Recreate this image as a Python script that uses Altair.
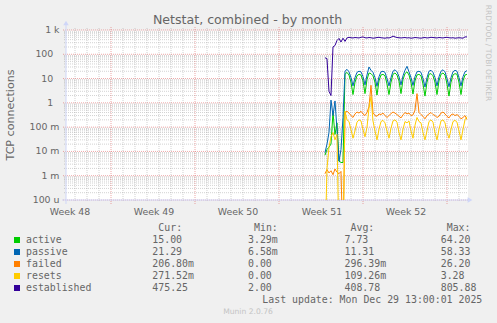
import altair as alt
import pandas as pd

# ---------------- data ----------------
series_names = ["active", "passive", "failed", "resets", "established"]
series_colors = ["#00CC00", "#0066B3", "#FF8000", "#FFCC00", "#330099"]

# time axis in days since the left edge of the graph; samples every 4 hours
sample_start_day = 21.583
sample_step_day = 1.0 / 6.0

active = [0.007, 0.012, 0.015, 0.02, 0.4, 0.05, 0.15, 0.004, 0.0035, 0.0035,
          15, 18, 14, 7, 2.2, 7, 13, 15, 14, 8,
          2.4, 9, 17, 16, 13, 7, 2.1, 8, 14, 15,
          13, 6, 2.2, 7, 15, 17, 14, 8, 2.4, 9,
          16, 19, 14, 7, 2.3, 8, 14, 15, 13, 6,
          1.9, 7, 15, 16, 13, 7, 2.2, 8, 15, 17,
          14, 6, 1.9, 7, 14, 16, 15, 7, 2.2, 8,
          14, 15]
passive = [0.009, 0.02, 0.06, 1.3, 0.3, 1.2, 0.08, 0.004, 0.012, 0.25,
           20, 24, 19, 11, 5, 11, 18, 20, 19, 12,
           5.5, 14, 30, 22, 18, 11, 4.8, 12, 19, 20,
           18, 10, 5, 11, 20, 23, 19, 12, 5.5, 13,
           22, 32, 19, 11, 5.2, 12, 19, 20, 18, 10,
           4.5, 11, 20, 22, 18, 11, 5, 12, 20, 23,
           19, 10, 4.6, 11, 19, 22, 20, 11, 5, 12,
           19, 21.3]
failed = [0.0012, 0.0018, 0.0013, 0.0016, 0.0011, 0.0019, 0.0014, 0.0012, 0.0015, 0,
          0.4, 0.45, 0.38, 0.3, 0.25, 0.35, 0.42, 0.38, 0.45, 0.35,
          0.3, 0.4, 0.7, 5.3, 0.4, 0.3, 0.28, 0.35, 0.33, 0.38,
          0.3, 0.25, 0.3, 0.36, 0.42, 0.38, 0.33, 0.28, 0.24, 0.32,
          0.4, 0.35, 0.38, 0.3, 0.32, 0.5, 2.4, 0.4, 0.33, 0.28,
          0.22, 0.3, 0.35, 0.4, 0.33, 0.3, 0.25, 0.28, 0.38, 0.42,
          0.35, 0.28, 0.24, 0.32, 0.35, 0.3, 0.33, 0.28, 0.22, 0.25,
          0.3, 0.207]
resets = [0, 0.002, 0.015, 0.04, 0.06, 0.03, 0.05, 0, 0, 0,
          0.45, 0.2, 0.17, 0.08, 0.035, 0.07, 0.16, 0.2, 0.18, 0.08,
          0.04, 0.1, 0.6, 1.8, 0.18, 0.07, 0.03, 0.08, 0.17, 0.19,
          0.15, 0.07, 0.035, 0.09, 0.18, 0.2, 0.16, 0.06, 0.03, 0.08,
          0.17, 0.15, 0.18, 0.07, 0.035, 0.12, 0.25, 0.17, 0.15, 0.06,
          0.03, 0.07, 0.17, 0.2, 0.16, 0.06, 0.03, 0.08, 0.18, 0.2,
          0.15, 0.06, 0.035, 0.08, 0.17, 0.19, 0.16, 0.07, 0.03, 0.08,
          0.2, 0.27]
established = [72, 66, 3, 2.0, 200, 230, 370, 450, 320, 460,
               340, 470, 500, 480, 470, 490, 480, 470, 500, 520,
               480, 470, 490, 480, 460, 470, 490, 500, 480, 470,
               460, 480, 470, 500, 560, 520, 490, 480, 470, 480,
               490, 470, 480, 460, 470, 490, 480, 470, 460, 480,
               490, 470, 480, 500, 490, 480, 470, 490, 480, 470,
               490, 500, 480, 470, 480, 460, 470, 480, 470, 460,
               520, 520]
series_values = [active, passive, failed, resets, established]

week_labels = ["Week 48", "Week 49", "Week 50", "Week 51", "Week 52"]
week_label_days = [0.333, 7.333, 14.333, 21.333, 28.333]
week_start_days = [3.75, 10.75, 17.75, 24.75, 31.75]
day_start_days = [0.75 + k for k in range(33)]

y_major_values = [1e-4, 1e-3, 1e-2, 1e-1, 1, 10, 100, 1000]
y_major_labels = ["100 u", "1 m", "10 m", "100 m", "1", "10", "100", "1 k"]
y_minor_values = [m * 10.0 ** e for e in range(-4, 3) for m in range(2, 10)]

legend_cur = [" 15.00 ", " 21.29 ", "206.80m", "271.52m", "475.25 "]
legend_min = ["  3.29m", "  6.58m", "  0.00 ", "  0.00 ", "  2.00 "]
legend_avg = ["  7.73 ", " 11.31 ", "296.39m", "109.26m", "408.78 "]
legend_max = [" 64.20 ", " 58.33 ", " 26.20 ", "  3.28 ", "805.88 "]
legend_headers = ["Cur:", "Min:", "Avg:", "Max:"]

title_text = "Netstat, combined - by month"
y_title_text = "TCP connections"
last_update_text = "Last update: Mon Dec 29 13:00:01 2025"
munin_text = "Munin 2.0.76"
watermark_text = "RRDTOOL / TOBI OETIKER"

# ---------------- chart ----------------
W, H = 402, 170
FONT = "DejaVu Sans"
MONO = "DejaVu Sans Mono"
FC = "#666666"
AXC = "#CFD6F8"

xs = alt.Scale(domain=[0, 33.5], nice=False, zero=False)
ys = alt.Scale(type="log", domain=[1e-4, 1000], nice=False)


def X(f="t"):
    return alt.X(f"{f}:Q", scale=xs, axis=None)


def Y(f="v"):
    return alt.Y(f"{f}:Q", scale=ys, axis=None)


layers = []

# grid
minor_days = [d for d in day_start_days if all(abs(d - w) > 1e-6 for w in week_start_days)]
layers.append(alt.Chart(pd.DataFrame({"t": minor_days})).mark_rule(
    color="#8F8F8F", opacity=0.4, strokeDash=[1, 1], strokeWidth=1
).encode(x=X(), y=alt.value(-2), y2=alt.value(H + 2)))
layers.append(alt.Chart(pd.DataFrame({"v": y_minor_values})).mark_rule(
    color="#8F8F8F", opacity=0.4, strokeDash=[1, 1], strokeWidth=1
).encode(y=Y(), x=alt.value(-2), x2=alt.value(W)))
layers.append(alt.Chart(pd.DataFrame({"t": week_start_days})).mark_rule(
    color="#DE4F4F", opacity=0.5, strokeDash=[1, 1], strokeWidth=1
).encode(x=X(), y=alt.value(-3), y2=alt.value(H + 4)))
layers.append(alt.Chart(pd.DataFrame({"v": y_major_values})).mark_rule(
    color="#DE4F4F", opacity=0.5, strokeDash=[1, 1], strokeWidth=1
).encode(y=Y(), x=alt.value(-3), x2=alt.value(W)))

# axes lines and arrows
one = pd.DataFrame({"a": [0]})
layers.append(alt.Chart(one).mark_rule(color=AXC, strokeWidth=1).encode(
    x=alt.value(-4), x2=alt.value(W + 2), y=alt.value(H)))
layers.append(alt.Chart(one).mark_rule(color=AXC, strokeWidth=1).encode(
    x=alt.value(0), y=alt.value(-6), y2=alt.value(H + 4)))
layers.append(alt.Chart(one).mark_point(shape="triangle-right", filled=True, color=AXC,
                                        opacity=1, size=30).encode(
    x=alt.value(W + 2), y=alt.value(H)))
layers.append(alt.Chart(one).mark_point(shape="triangle-up", filled=True, color=AXC,
                                        opacity=1, size=30).encode(
    x=alt.value(0), y=alt.value(-7)))

# data lines
times = [sample_start_day + i * sample_step_day for i in range(len(active))]
for name, col, vals in zip(series_names, series_colors, series_values):
    df = pd.DataFrame({"t": times, "v": vals})
    layers.append(alt.Chart(df).transform_calculate(
        vv="max(datum.v, 1e-6)"
    ).mark_line(color=col, strokeWidth=1, clip=True).encode(x=X(), y=Y("vv")))

# tick labels
unit_idx = [i for i, s in enumerate(y_major_labels) if " " in s]
plain_idx = [i for i, s in enumerate(y_major_labels) if " " not in s]
for idx, xo in ((unit_idx, -6.5), (plain_idx, -12.7)):
    dfl = pd.DataFrame({"v": [y_major_values[i] for i in idx],
                        "lab": [y_major_labels[i] for i in idx]})
    layers.append(alt.Chart(dfl).mark_text(
        align="right", baseline="middle", font=FONT, fontSize=9.4, color=FC
    ).encode(y=Y(), x=alt.value(xo), text="lab:N"))

layers.append(alt.Chart(pd.DataFrame({"t": week_label_days, "lab": week_labels})).mark_text(
    align="center", baseline="middle", font=FONT, fontSize=9.4, color=FC
).encode(x=X(), y=alt.value(H + 12), text="lab:N"))


def txt(s, x, y, **kw):
    return alt.Chart(pd.DataFrame({"s": [s.replace(" ", "\u00a0")]})).mark_text(**kw).encode(
        x=alt.value(x), y=alt.value(y), text="s:N")


layers.append(txt(title_text, 181.5, -10.5, align="center", baseline="middle",
                  font=FONT, fontSize=12.6, color=FC))
layers.append(txt(y_title_text, -55.5, 85, align="center", baseline="middle",
                  font=FONT, fontSize=11.1, color=FC, angle=270))
layers.append(txt(watermark_text, 422, 23, align="center", baseline="middle",
                  font=FONT, fontSize=7.5, color="#C4C4C4", angle=90))

# legend
col_starts = [86.3, 182.0, 278.5, 374.7]
for hx, h in zip(col_starts, legend_headers):
    layers.append(txt(h, hx + 6, 198, align="left", baseline="middle",
                      font=MONO, fontSize=9.9, color=FC))
row_y = [210, 222, 234, 246, 258]
for i, name in enumerate(series_names):
    ry = row_y[i]
    layers.append(alt.Chart(one).mark_square(size=36, filled=True, opacity=1,
                                             color=series_colors[i]).encode(
        x=alt.value(-49), y=alt.value(ry)))
    layers.append(txt(name, -40, ry, align="left", baseline="middle",
                      font=MONO, fontSize=9.9, color=FC))
    for cx, col in zip(col_starts, [legend_cur, legend_min, legend_avg, legend_max]):
        layers.append(txt(col[i], cx, ry, align="left", baseline="middle",
                          font=MONO, fontSize=9.9, color=FC))
layers.append(txt(last_update_text, 416.3, 270, align="right", baseline="middle",
                  font=MONO, fontSize=9.9, color=FC))
layers.append(txt(munin_text, 182, 282, align="center", baseline="middle",
                  font=FONT, fontSize=7.6, color="#C4C4C4"))

chart = alt.layer(*layers).properties(
    width=W, height=H,
    padding={"left": 66, "top": 30, "right": 29, "bottom": 123},
    autosize=alt.AutoSizeParams(type="none"),
    background="#F0F0F0",
).configure_view(fill="#FFFFFF", stroke=None)

chart.save("out.html", embed_options={"renderer": "svg", "actions": False})
